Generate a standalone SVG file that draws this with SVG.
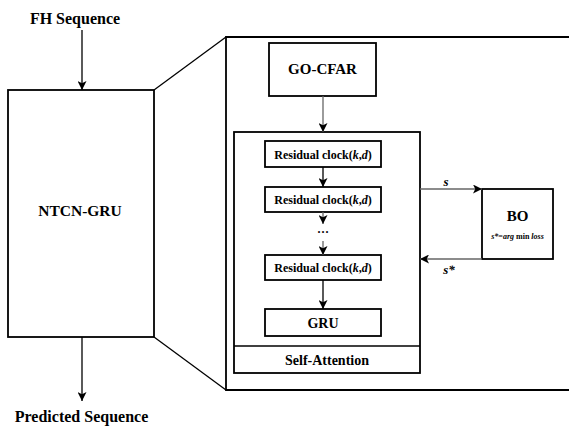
<svg xmlns="http://www.w3.org/2000/svg" width="569" height="427" viewBox="0 0 569 427">
<style>
.box{fill:#fff;stroke:#000;stroke-width:1.8}
.t{font-family:"Liberation Serif","Times New Roman",serif;font-weight:bold;fill:#000;text-anchor:middle}
.ln{stroke:#000;stroke-width:1.3;fill:none}
.lg{stroke:#666;stroke-width:1.3;fill:none}
</style>
<defs>
<marker id="ah" viewBox="0 0 10 10" refX="10" refY="5" markerWidth="9" markerHeight="9" markerUnits="userSpaceOnUse" orient="auto">
<path d="M0,0 L10,5 L0,10 L2.5,5 z" fill="#000"/>
</marker>
</defs>
<rect width="569" height="427" fill="#fff"/>
<g id="zoom-lines">
<line class="ln" x1="154" y1="90" x2="226" y2="37"/>
<line class="ln" x1="154" y1="337" x2="226" y2="390"/>
</g>
<g id="detail-frame"><path class="box" d="M575,37 H226 V390 H575"/></g>
<g id="ntcn-gru">
<rect class="box" x="8" y="90" width="146" height="247"/>
<text class="t" x="80" y="216" font-size="15.5">NTCN-GRU</text>
</g>
<g id="fh-seq"><text class="t" x="75" y="24" font-size="16">FH Sequence</text></g>
<g id="pred-seq"><text class="t" x="81.5" y="422" font-size="16">Predicted Sequence</text></g>
<g id="go-cfar">
<rect class="box" x="269" y="43" width="107" height="53"/>
<text class="t" x="322.5" y="74" font-size="15">GO-CFAR</text>
</g>
<g id="container">
<rect class="box" x="234" y="132" width="186" height="241"/>
<line class="ln" x1="234" y1="346" x2="420" y2="346" stroke-width="1.8"/>
<text class="t" x="327" y="364.5" font-size="14">Self-Attention</text>
</g>
<g id="rc1"><rect class="box" x="265" y="141" width="116" height="26"/><text class="t" x="323" y="158.5" font-size="12">Residual clock(<tspan font-style="italic">k</tspan>,<tspan font-style="italic">d</tspan>)</text></g>
<g id="rc2"><rect class="box" x="265" y="187" width="116" height="25"/><text class="t" x="323" y="204" font-size="12">Residual clock(<tspan font-style="italic">k</tspan>,<tspan font-style="italic">d</tspan>)</text></g>
<g id="dots"><text class="t" x="323" y="236" font-size="12" font-weight="normal">···</text></g>
<g id="rc3"><rect class="box" x="265" y="255" width="116" height="25"/><text class="t" x="323" y="272" font-size="12">Residual clock(<tspan font-style="italic">k</tspan>,<tspan font-style="italic">d</tspan>)</text></g>
<g id="gru"><rect class="box" x="265" y="309" width="116" height="27"/><text class="t" x="323" y="327.5" font-size="14">GRU</text></g>
<g id="bo">
<rect class="box" x="482" y="189" width="71" height="70"/>
<text class="t" x="517.5" y="221" font-size="15">BO</text>
<text class="t" x="517.5" y="239" font-size="8"><tspan font-style="italic">s*</tspan>=<tspan font-style="italic">arg</tspan> min <tspan font-style="italic">loss</tspan></text>
</g>
<g id="connectors">
<line class="ln" x1="82" y1="30" x2="82" y2="90" marker-end="url(#ah)"/>
<line class="ln" x1="82" y1="337" x2="82" y2="401" marker-end="url(#ah)"/>
<line class="lg" x1="323" y1="96" x2="323" y2="132" marker-end="url(#ah)"/>
<line class="ln" x1="323" y1="167" x2="323" y2="187" marker-end="url(#ah)"/>
<line class="lg" x1="323" y1="212" x2="323" y2="224" marker-end="url(#ah)"/>
<line class="lg" x1="323" y1="241" x2="323" y2="255" marker-end="url(#ah)"/>
<line class="ln" x1="323" y1="280" x2="323" y2="309" marker-end="url(#ah)"/>
<line class="lg" x1="420" y1="189" x2="482" y2="189" marker-end="url(#ah)"/>
<line class="lg" x1="482" y1="259" x2="420" y2="259" marker-end="url(#ah)"/>
<text class="t" x="446" y="186" font-size="13" font-style="italic">s</text>
<text class="t" x="449" y="274" font-size="13" font-style="italic">s*</text>
</g>
</svg>
